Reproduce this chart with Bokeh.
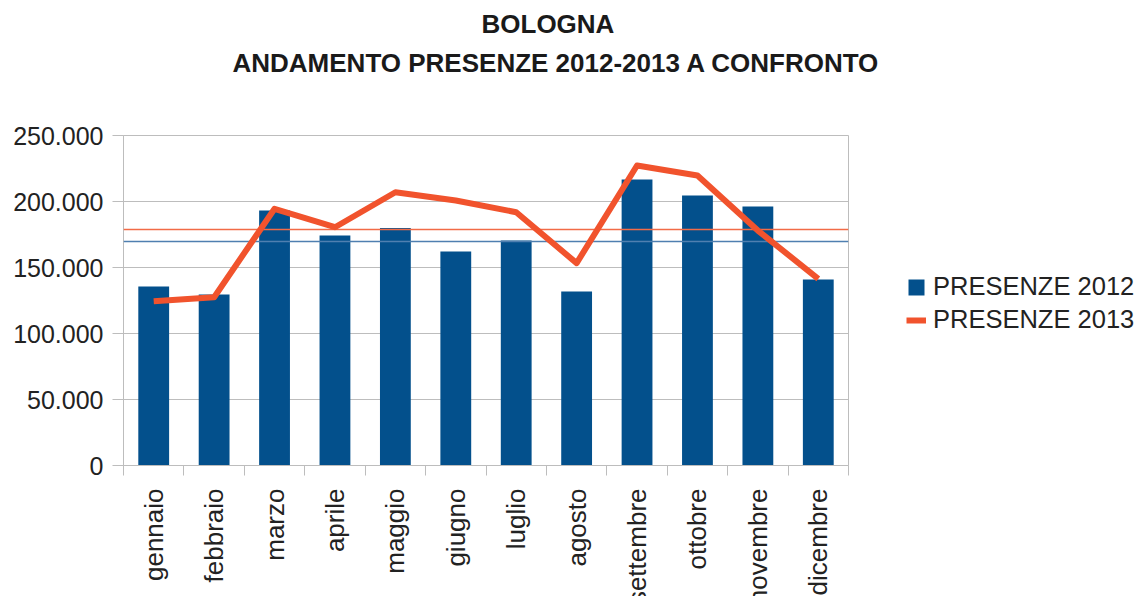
from math import pi
from bokeh.plotting import figure
from bokeh.models import (Range1d, FixedTicker, Span, Legend, LegendItem, Title,
                          CustomJSTickFormatter)
from bokeh.embed import file_html
from bokeh.resources import INLINE

# ---- data ----
months = ["gennaio", "febbraio", "marzo", "aprile", "maggio", "giugno",
          "luglio", "agosto", "settembre", "ottobre", "novembre", "dicembre"]
presenze_2012 = [135600, 129500, 193200, 174200, 180000, 162100,
                 170500, 131800, 216700, 204500, 196200, 140900]
presenze_2013 = [124500, 127500, 194500, 180500, 207000, 200800,
                 191900, 153300, 227300, 219700, 178000, 141400]
media_2012 = 169700
media_2013 = 178800
y_ticks = [0, 50000, 100000, 150000, 200000, 250000]
y_tick_labels = ["0", "50.000", "100.000", "150.000", "200.000", "250.000"]

# month slots on a linear axis: slot i spans [i, i+1], centre at i + 0.5
slot_edges = list(range(len(months) + 1))
slot_centres = [i + 0.5 for i in range(len(months))]

FONT = "Liberation Sans"
GRID = "#bdbdbd"
BLUE = "#03508c"
ORANGE = "#f1532d"

p = figure(x_range=Range1d(0, len(months)), y_range=Range1d(0, 250000),
           frame_width=725, frame_height=330,
           min_border_left=123, min_border_right=295, min_border_top=135, min_border_bottom=131,
           output_backend="svg", toolbar_location=None,
           background_fill_color="white", border_fill_color="white")
p.outline_line_color = GRID
p.xgrid.grid_line_color = None
p.ygrid.grid_line_color = GRID
p.ygrid.ticker = FixedTicker(ticks=y_ticks)

ya = p.yaxis[0]
ya.ticker = FixedTicker(ticks=y_ticks)
ya.major_label_overrides = dict(zip(y_ticks, y_tick_labels))
ya.axis_line_color = GRID
ya.major_tick_line_color = GRID
ya.major_tick_out = 11
ya.major_tick_in = 0
ya.minor_tick_line_color = None
ya.major_label_text_font = FONT
ya.major_label_text_font_size = "25px"
ya.major_label_text_color = "#222222"
ya.major_label_standoff = 9

xa = p.xaxis[0]
xa.ticker = FixedTicker(ticks=slot_centres, minor_ticks=slot_edges)
xa.formatter = CustomJSTickFormatter(args=dict(months=months),
                                     code="return months[Math.floor(tick)]")
xa.major_label_orientation = pi / 2
xa.axis_line_color = GRID
xa.major_tick_line_color = None
xa.major_tick_out = 0
xa.major_tick_in = 0
xa.minor_tick_line_color = GRID
xa.minor_tick_out = 10
xa.minor_tick_in = 0
xa.major_label_standoff = 13
xa.major_label_text_font = FONT
xa.major_label_text_font_size = "26px"
xa.major_label_text_color = "#222222"

bars = p.vbar(x=slot_centres, top=presenze_2012, width=0.51, color=BLUE, line_color=None)
p.add_layout(Span(location=media_2012, dimension="width", line_color="#4f7fb0", line_width=1.5))
p.add_layout(Span(location=media_2013, dimension="width", line_color="#f26b47", line_width=1.5))
line = p.line(x=slot_centres, y=presenze_2013, line_width=6, line_color=ORANGE, line_join="round")
line.level = "overlay"

# titles: p.title is the outermost one
p.title.text = "BOLOGNA"
p.title.align = "left"
p.title.offset = 358
p.title.text_font = FONT
p.title.text_font_size = "26px"
p.title.text_font_style = "bold"
p.title.text_color = "#1a1a1a"
p.title.standoff = 0
p.title.padding = dict(left=0, right=0, top=5, bottom=5)
t2 = Title(text="ANDAMENTO PRESENZE 2012-2013 A CONFRONTO", align="left", offset=109,
           text_font=FONT, text_font_size="26px", text_font_style="bold",
           text_color="#1a1a1a", standoff=0,
           padding=dict(left=0, right=0, top=2, bottom=58))
p.add_layout(t2, "above")

legend = Legend(items=[LegendItem(label="PRESENZE 2012", renderers=[bars]),
                       LegendItem(label="PRESENZE 2013", renderers=[line])],
                location=(58, 131), glyph_width=20, glyph_height=20, label_standoff=7,
                spacing=4, padding=0, margin=0, border_line_color=None,
                background_fill_alpha=0, label_text_font=FONT, label_text_font_size="25.5px",
                label_text_color="#222222")
p.add_layout(legend, "right")

open("out.html", "w").write(file_html(p, INLINE))
